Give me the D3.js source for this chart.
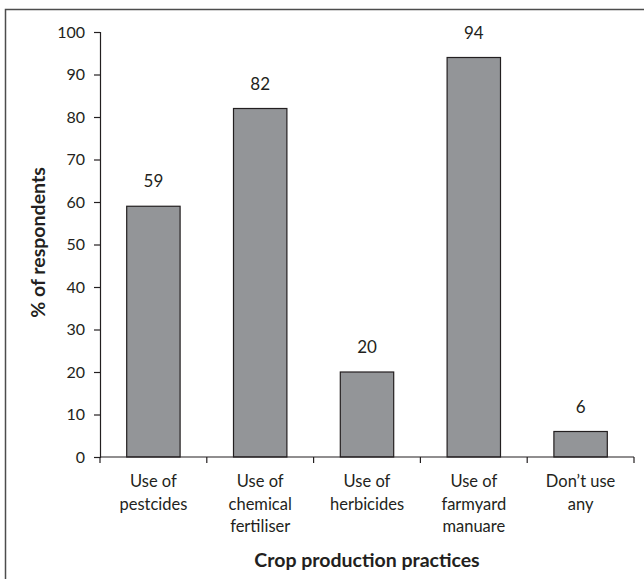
<!DOCTYPE html>
<html>
<head>
<meta charset="utf-8">
<script src="https://cdn.jsdelivr.net/npm/d3@7"></script>
<style>
  html, body { margin: 0; padding: 0; background: #fff; }
  svg { display: block; }
  text { font-family: Lato, "Open Sans", sans-serif; fill: #231f20; }
</style>
</head>
<body>
<svg id="chart" width="644" height="579"></svg>
<script>
// Crop production practices reported by respondents
const categories = [
  ["Use of", "pestcides"],
  ["Use of", "chemical", "fertiliser"],
  ["Use of", "herbicides"],
  ["Use of", "farmyard", "manuare"],
  ["Don\u2019t use", "any"]
];
const values = [59, 82, 20, 94, 6];
const yTicks = [0, 10, 20, 30, 40, 50, 60, 70, 80, 90, 100];

const svg = d3.select("#chart");
const margin = { left: 100, right: 10, top: 32, bottom: 122 };
const plotW = 634 - margin.left;
const plotH = 457 - margin.top;

// Frame around the figure (right/bottom edges fall off the canvas)
svg.append("rect")
  .attr("x", 5.5).attr("y", 9.5)
  .attr("width", 700).attr("height", 700)
  .attr("fill", "none").attr("stroke", "#4d4d4d").attr("stroke-width", 1.5);

const g = svg.append("g").attr("transform", `translate(${margin.left},${margin.top})`);

const x = d3.scaleBand()
  .domain(d3.range(values.length))
  .range([0, plotW])
  .paddingInner(0.5)
  .paddingOuter(0.25);

const y = d3.scaleLinear().domain([0, 100]).range([plotH, 0]);

// Bars
g.selectAll("rect.bar")
  .data(values)
  .join("rect")
  .attr("class", "bar")
  .attr("x", (d, i) => x(i))
  .attr("y", d => y(d))
  .attr("width", x.bandwidth())
  .attr("height", d => y(0) - y(d))
  .attr("fill", "#939598")
  .attr("stroke", "#231f20")
  .attr("stroke-width", 1.2);

// Value labels above bars
g.selectAll("text.val")
  .data(values)
  .join("text")
  .attr("class", "val")
  .attr("x", (d, i) => x(i) + x.bandwidth() / 2)
  .attr("y", d => y(d) - 19)
  .attr("text-anchor", "middle")
  .attr("font-size", 17)
  .text(d => d);

// Y axis
const yAxis = g.append("g")
  .call(d3.axisLeft(y).tickValues(yTicks).tickSize(6).tickPadding(9));
yAxis.selectAll("text").attr("font-size", 16).style("font-family", "Lato, 'Open Sans', sans-serif").attr("fill", "#231f20");
yAxis.selectAll("line, path").attr("stroke", "#231f20").attr("stroke-width", 1.2);

// X axis: ticks at category boundaries
const step = x.step();
const xAxisG = g.append("g").attr("transform", `translate(0,${plotH})`);
xAxisG.append("line")
  .attr("x1", 0).attr("x2", plotW)
  .attr("stroke", "#231f20").attr("stroke-width", 1.2);
xAxisG.selectAll("line.tick")
  .data(d3.range(values.length + 1))
  .join("line")
  .attr("class", "tick")
  .attr("x1", i => i * step).attr("x2", i => i * step)
  .attr("y1", 0).attr("y2", 6)
  .attr("stroke", "#231f20").attr("stroke-width", 1.2);

// Category labels
const catLabels = xAxisG.selectAll("text.cat")
  .data(categories)
  .join("text")
  .attr("class", "cat")
  .attr("text-anchor", "middle")
  .attr("font-size", 16.5)
  .attr("transform", (d, i) => `translate(${x(i) + x.bandwidth() / 2},30)`);
catLabels.selectAll("tspan")
  .data(d => d)
  .join("tspan")
  .attr("x", 0)
  .attr("y", (d, j) => j * 22.5)
  .text(d => d);

// Axis titles
g.append("text")
  .attr("x", plotW / 2)
  .attr("y", plotH + 110)
  .attr("text-anchor", "middle")
  .attr("font-size", 19.5)
  .attr("font-weight", "bold")
  .text("Crop production practices");

g.append("text")
  .attr("transform", `translate(${-55},${plotH / 2 - 2}) rotate(-90)`)
  .attr("text-anchor", "middle")
  .attr("font-size", 19.5)
  .attr("font-weight", "bold")
  .text("% of respondents");
</script>
</body>
</html>
